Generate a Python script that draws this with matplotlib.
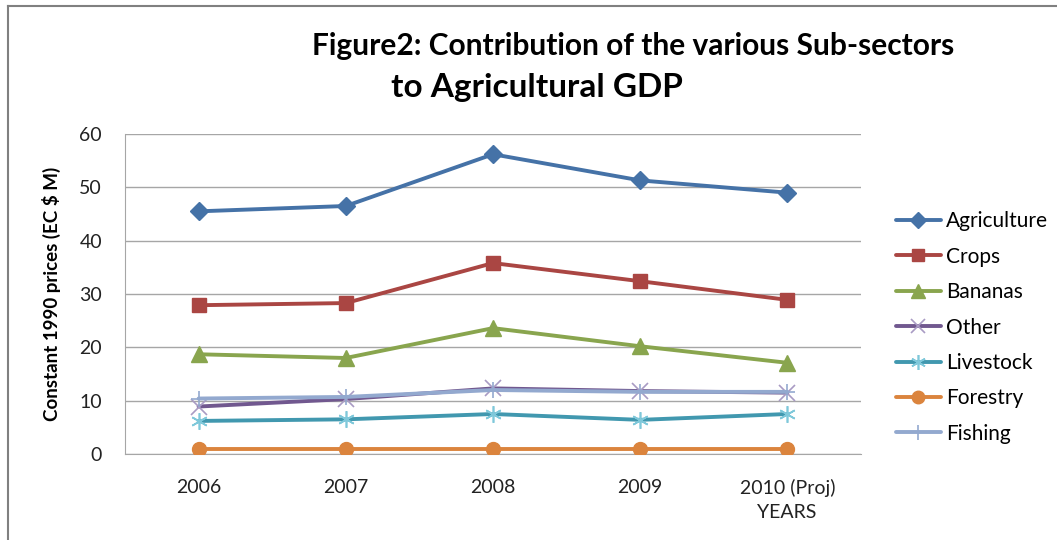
import matplotlib
matplotlib.use("Agg")
import matplotlib.pyplot as plt
from matplotlib.lines import Line2D

years = ["2006", "2007", "2008", "2009", "2010 (Proj)"]
agriculture = [45.5, 46.5, 56.2, 51.3, 49.0]
crops = [27.9, 28.3, 35.8, 32.4, 28.9]
bananas = [18.7, 18.0, 23.6, 20.2, 17.1]
other = [8.9, 10.3, 12.3, 11.8, 11.5]
livestock = [6.2, 6.5, 7.5, 6.4, 7.5]
forestry = [0.9, 0.9, 0.9, 0.9, 0.9]
fishing = [10.4, 10.7, 12.0, 11.65, 11.65]

series = [
    ("Agriculture", agriculture, "#4572A7", "D", 9, "#4572A7", 1),
    ("Crops", crops, "#AA4643", "s", 10, "#AA4643", 1),
    ("Bananas", bananas, "#89A54E", "^", 11, "#89A54E", 1),
    ("Other", other, "#71588F", "x", 11, "#A99BC4", 1.2),
    ("Livestock", livestock, "#4198AF", (6, 2, 0), 12, "#7FC8DA", 1.2),
    ("Forestry", forestry, "#DB843D", "o", 10, "#DB843D", 1),
    ("Fishing", fishing, "#93A9CF", "+", 12, "#93A9CF", 1.2),
]

fig = plt.figure(figsize=(10.57, 5.40), dpi=100)
ax = fig.add_axes([125/1057, 86/540, 736/1057, 320/540])

xs = list(range(len(years)))
for name, vals, col, mk, ms, mcol, mew in series:
    ax.plot(xs, vals, color=col, lw=2.8, marker=mk, ms=ms, mfc=mcol, mec=mcol,
            mew=mew, label=name, solid_capstyle="round", zorder=3)

ax.set_xlim(-0.5, 4.5)
ax.set_ylim(0, 60)
ax.set_yticks(range(0, 61, 10))
ax.set_xticks(xs)
ax.set_xticklabels(years)
ax.grid(axis="y", color="#A6A6A6", lw=1)
ax.set_axisbelow(True)
for s in ["top", "right"]:
    ax.spines[s].set_visible(False)
ax.spines["left"].set_color("#A6A6A6")
ax.spines["bottom"].set_color("#A6A6A6")
ax.tick_params(length=0, labelsize=14, labelcolor="#222222")
for lab in ax.get_xticklabels() + ax.get_yticklabels():
    lab.set_family("Lato")
ax.tick_params(axis="y", pad=16.5)
ax.tick_params(axis="x", pad=18)

ax.set_ylabel("Constant 1990 prices (EC $ M)", fontsize=13.5, fontweight="bold",
              family="Lato", labelpad=13)
fig.text(787/1057, 1 - 512/540, "YEARS", ha="center", va="center",
         fontsize=14, family="Lato", color="#222222")

fig.text(633/1057, 1 - 46/540, "Figure2: Contribution of the various Sub-sectors",
         ha="center", va="center", fontsize=21.5, fontweight="bold", family="Lato")
fig.text(537/1057, 1 - 88/540, "to Agricultural GDP",
         ha="center", va="center", fontsize=24, fontweight="bold", family="Lato")

leg = fig.legend(loc="center left", bbox_to_anchor=(877/1057, 1 - 327.5/540),
                 frameon=False, prop={"family": "Lato", "size": 15},
                 handlelength=2.15, labelspacing=0.74, handletextpad=0.25,
                 markerscale=0.9)

fig.add_artist(Line2D([7.5/1057, 7.5/1057], [0, 1 - 6/540], transform=fig.transFigure,
                      color="#808080", lw=1.5))
fig.add_artist(Line2D([7.5/1057, 1], [1 - 6/540, 1 - 6/540], transform=fig.transFigure,
                      color="#808080", lw=1.5))

fig.savefig("out.png", dpi=100)
